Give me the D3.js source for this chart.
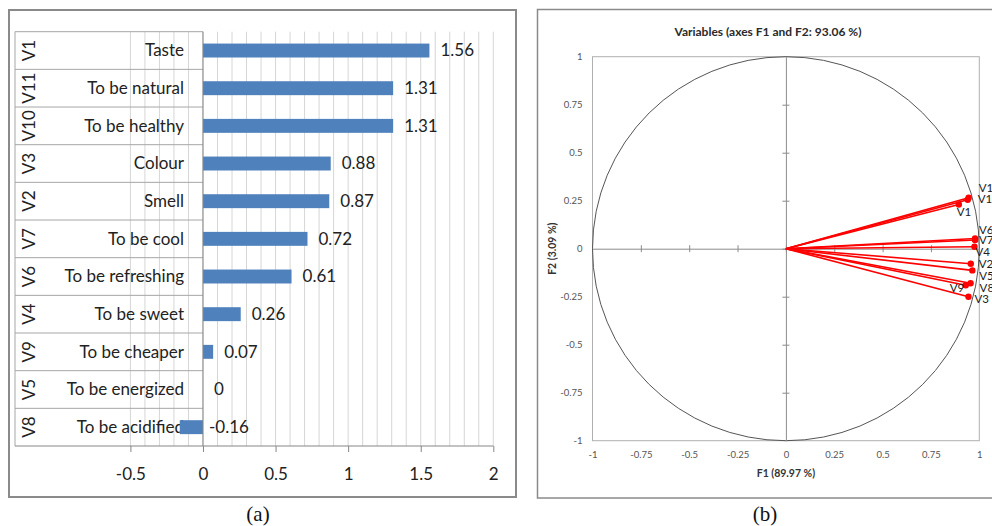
<!DOCTYPE html>
<html>
<head>
<meta charset="utf-8">
<script src="https://cdn.jsdelivr.net/npm/d3@7"></script>
<style>
  html, body { margin: 0; padding: 0; background: #fff; }
  svg { display: block; }
  text { font-family: Lato, "Open Sans", sans-serif; }
  text.caption { font-family: "Liberation Serif", "DejaVu Serif", serif; }
</style>
</head>
<body>
<svg id="chart" width="992" height="526"></svg>
<script>
// ---- Panel (a): attribute scores ----
const codes = ["V1", "V11", "V10", "V3", "V2", "V7", "V6", "V4", "V9", "V5", "V8"];
const attributes = ["Taste", "To be natural", "To be healthy", "Colour", "Smell", "To be cool",
  "To be refreshing", "To be sweet", "To be cheaper", "To be energized", "To be acidified"];
const scores = [1.56, 1.31, 1.31, 0.88, 0.87, 0.72, 0.61, 0.26, 0.07, 0, -0.16];
const scoreTicks = [-0.5, 0, 0.5, 1, 1.5, 2];

// ---- Panel (b): correlation circle on F1/F2 ----
const variables = ["V10", "V11", "V1", "V6", "V7", "V4", "V2", "V5", "V9", "V8", "V3"];
const f1 = [0.945, 0.940, 0.894, 0.978, 0.978, 0.975, 0.956, 0.964, 0.930, 0.955, 0.944];
const f2 = [0.265, 0.255, 0.230, 0.053, 0.045, 0.010, -0.078, -0.113, -0.190, -0.180, -0.250];
const circleTicks = [-1, -0.75, -0.5, -0.25, 0, 0.25, 0.5, 0.75, 1];

// label nudges (px) for the variable names next to each arrow tip
const labelShift = {
  V10: [10, -10], V11: [10, -1], V1: [-2, 7], V6: [4, -9], V7: [4, 0], V4: [1, 5],
  V2: [8, 0], V5: [7, 6], V9: [-16, 3], V8: [9, 5], V3: [6, 2]
};

const svg = d3.select("#chart");
const fmt = d => String(d);

// ================= Panel (a) =================
const gA = svg.append("g");
gA.append("rect").attr("x", 9).attr("y", 10).attr("width", 507).attr("height", 487)
  .attr("fill", "#fff").attr("stroke", "#8a8a8a").attr("stroke-width", 2);

const plotTop = 31.7, plotBottom = 446, tableLeft = 15;
const xA = d3.scaleLinear().domain([-0.5, 2]).range([130.4, 493.3]);
const rows = d3.scaleBand().domain(codes).range([plotTop, plotBottom]);
const bars = d3.scaleBand().domain(codes).range([plotTop, plotBottom]).paddingInner(0.63).paddingOuter(0.315);
const rowData = codes.map((c, i) => ({ code: c, label: attributes[i], value: scores[i] }));

// vertical gridlines every 0.1
gA.append("g").selectAll("line").data(d3.range(-5, 21).map(i => i / 10)).join("line")
  .attr("x1", d => xA(d)).attr("x2", d => xA(d)).attr("y1", plotTop).attr("y2", plotBottom)
  .attr("stroke", "#d6d6d6").attr("stroke-width", 1);

// category table lines
gA.append("g").selectAll("line").data(codes).join("line")
  .attr("x1", tableLeft).attr("x2", xA(0))
  .attr("y1", d => rows(d)).attr("y2", d => rows(d))
  .attr("stroke", "#a6a6a6").attr("stroke-width", 1);
gA.append("line").attr("x1", tableLeft).attr("x2", tableLeft).attr("y1", plotTop).attr("y2", plotBottom)
  .attr("stroke", "#a6a6a6");

// category labels
gA.append("g").selectAll("text").data(rowData).join("text")
  .attr("x", 184).attr("y", d => rows(d.code) + rows.bandwidth() / 2).attr("dy", "0.35em")
  .attr("text-anchor", "end").attr("font-size", 17).attr("fill", "#222")
  .text(d => d.label);
gA.append("g").selectAll("text").data(rowData).join("text")
  .attr("transform", d => `translate(29,${rows(d.code) + rows.bandwidth() / 2}) rotate(-90)`)
  .attr("dy", "0.35em").attr("text-anchor", "middle").attr("font-size", 17).attr("fill", "#222")
  .text(d => d.code);

// bars
gA.append("g").selectAll("rect").data(rowData).join("rect")
  .attr("x", d => xA(Math.min(0, d.value)))
  .attr("width", d => Math.abs(xA(d.value) - xA(0)))
  .attr("y", d => bars(d.code)).attr("height", bars.bandwidth())
  .attr("fill", "#4F81BD");

// value axis line (zero)
gA.append("line").attr("x1", xA(0)).attr("x2", xA(0)).attr("y1", plotTop).attr("y2", plotBottom)
  .attr("stroke", "#868686");

// value labels
gA.append("g").selectAll("text").data(rowData).join("text")
  .attr("x", d => xA(Math.max(0, d.value)) + (d.value < 0 ? 6 : 11))
  .attr("y", d => rows(d.code) + rows.bandwidth() / 2).attr("dy", "0.35em")
  .attr("font-size", 17).attr("fill", "#222")
  .text(d => fmt(d.value));

// bottom axis
const axA = gA.append("g").attr("transform", `translate(0,${plotBottom})`)
  .call(d3.axisBottom(xA).tickValues(scoreTicks).tickSize(6).tickPadding(16).tickFormat(fmt));
axA.select(".domain").remove();
axA.selectAll(".tick line").attr("stroke", "#868686");
axA.selectAll(".tick text").attr("font-size", 17).attr("fill", "#222");
gA.append("line").attr("x1", tableLeft).attr("x2", xA(2)).attr("y1", plotBottom).attr("y2", plotBottom)
  .attr("stroke", "#868686");

// ================= Panel (b) =================
const gB = svg.append("g");
gB.append("rect").attr("x", 537.5).attr("y", 9.5).attr("width", 480).attr("height", 488.5)
  .attr("fill", "#fff").attr("stroke", "#8a8a8a").attr("stroke-width", 1.5);

const xB = d3.scaleLinear().domain([-1, 1]).range([592.5, 979.3]);
const yB = d3.scaleLinear().domain([-1, 1]).range([440.7, 56.7]);

// plot frame
gB.append("rect").attr("x", xB(-1)).attr("y", yB(1))
  .attr("width", xB(1) - xB(-1)).attr("height", yB(-1) - yB(1))
  .attr("fill", "none").attr("stroke", "#b0b0b0").attr("stroke-width", 1);

// unit circle
gB.append("ellipse").attr("cx", xB(0)).attr("cy", yB(0))
  .attr("rx", xB(1) - xB(0)).attr("ry", yB(-1) - yB(0))
  .attr("fill", "none").attr("stroke", "#555").attr("stroke-width", 1);

// centre axes with crossing ticks
const hAx = gB.append("g").attr("transform", `translate(0,${yB(0)})`)
  .call(d3.axisBottom(xB).tickValues(circleTicks.slice(1, -1)).tickSize(7).tickSizeOuter(0).tickFormat(""));
hAx.selectAll(".tick line").attr("y1", -3.5).attr("y2", 3.5);
const vAx = gB.append("g").attr("transform", `translate(${xB(0)},0)`)
  .call(d3.axisLeft(yB).tickValues(circleTicks.slice(1, -1)).tickSize(7).tickSizeOuter(0).tickFormat(""));
vAx.selectAll(".tick line").attr("x1", -3.5).attr("x2", 3.5);
gB.selectAll(".domain, .tick line").attr("stroke", "#8c8c8c");

// tick labels on the frame
const leftAx = gB.append("g").attr("transform", `translate(${xB(-1)},0)`)
  .call(d3.axisLeft(yB).tickValues(circleTicks).tickSize(0).tickPadding(10).tickFormat(fmt));
leftAx.select(".domain").remove();
const botAx = gB.append("g").attr("transform", `translate(0,${yB(-1)})`)
  .call(d3.axisBottom(xB).tickValues(circleTicks).tickSize(0).tickPadding(11).tickFormat(fmt));
botAx.select(".domain").remove();
gB.selectAll(".tick text").filter(function () { return this.textContent !== ""; })
  .attr("font-size", 9.5).attr("fill", "#555");

// titles
gB.append("text").attr("x", 768).attr("y", 31.5).attr("dy", "0.35em").attr("text-anchor", "middle")
  .attr("font-size", 12).attr("font-weight", "bold").attr("fill", "#2a2a2a")
  .text("Variables (axes F1 and F2: 93.06 %)");
gB.append("text").attr("x", xB(0)).attr("y", 473).attr("dy", "0.35em").attr("text-anchor", "middle")
  .attr("font-size", 10.5).attr("font-weight", "bold").attr("fill", "#333")
  .text("F1 (89.97 %)");
gB.append("text").attr("transform", `translate(552,${yB(0)}) rotate(-90)`).attr("dy", "0.35em")
  .attr("text-anchor", "middle").attr("font-size", 10.5).attr("font-weight", "bold").attr("fill", "#333")
  .text("F2 (3.09 %)");

// loading vectors
const pts = variables.map((v, i) => ({ name: v, x: f1[i], y: f2[i] }));
gB.append("g").selectAll("line").data(pts).join("line")
  .attr("x1", xB(0)).attr("y1", yB(0)).attr("x2", d => xB(d.x)).attr("y2", d => yB(d.y))
  .attr("stroke", "#ff0000").attr("stroke-width", 1.6);
gB.append("g").selectAll("circle").data(pts).join("circle")
  .attr("cx", d => xB(d.x)).attr("cy", d => yB(d.y)).attr("r", 3.2).attr("fill", "#ff0000");
gB.append("g").selectAll("text").data(pts).join("text")
  .attr("x", d => xB(d.x) + labelShift[d.name][0])
  .attr("y", d => yB(d.y) + labelShift[d.name][1]).attr("dy", "0.35em")
  .attr("font-size", 11.5).attr("fill", "#222")
  .text(d => d.name);

// panel captions
svg.append("text").attr("class", "caption").attr("x", 258).attr("y", 514).attr("dy", "0.35em")
  .attr("text-anchor", "middle").attr("font-size", 21).attr("fill", "#111")
  .text("(a)");
svg.append("text").attr("class", "caption").attr("x", 765).attr("y", 514).attr("dy", "0.35em")
  .attr("text-anchor", "middle").attr("font-size", 21).attr("fill", "#111")
  .text("(b)");
</script>
</body>
</html>
